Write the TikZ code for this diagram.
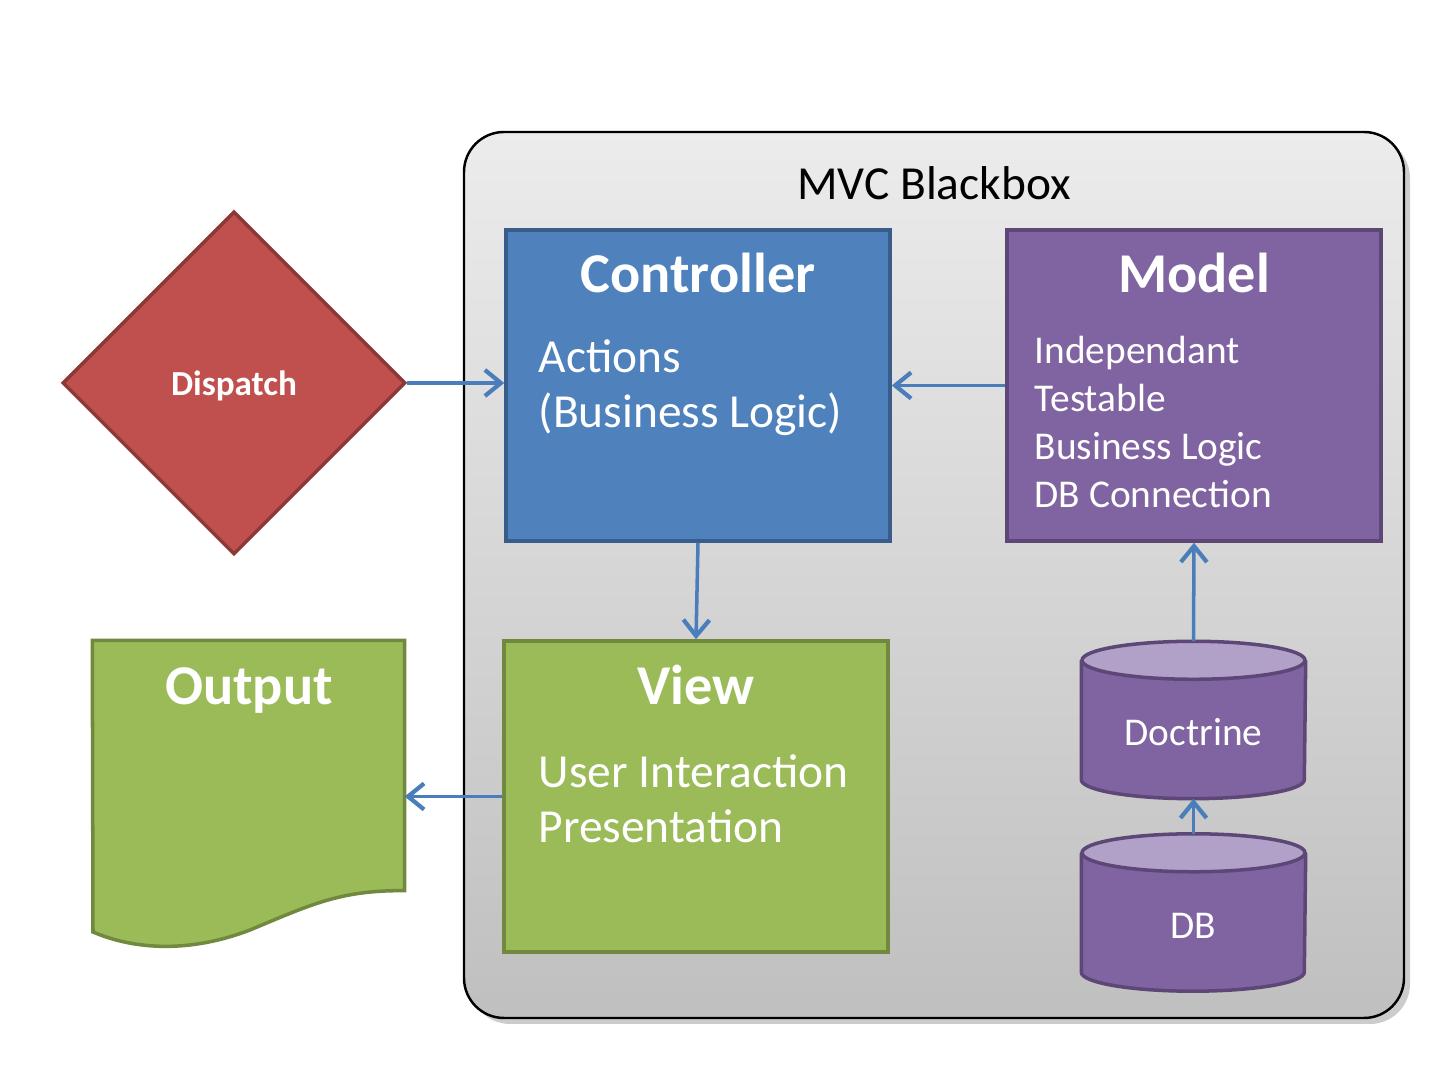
\documentclass[tikz,border=0pt]{standalone}
\usepackage{fontspec}
\setmainfont{Carlito}
\usepackage{xcolor}
\usetikzlibrary{positioning,shapes.geometric,shadows,arrows.meta}

\definecolor{ctrlblue}{HTML}{4F81BD}
\definecolor{ctrlborder}{HTML}{385D8A}
\definecolor{modelpurple}{HTML}{8064A2}
\definecolor{modelborder}{HTML}{5C4776}
\definecolor{modellight}{HTML}{B1A0C7}
\definecolor{viewgreen}{HTML}{9BBB59}
\definecolor{viewborder}{HTML}{71893F}
\definecolor{dispred}{HTML}{C0504D}
\definecolor{dispborder}{HTML}{8C3836}
\definecolor{arrowblue}{HTML}{4A7EBB}

\tikzset{
    mvcbox/.style={rectangle, line width=1pt, inner sep=0pt, minimum height=3.11cm},
    boxtitle/.style={anchor=base, text=white, font=\fontsize{16}{19}\selectfont\bfseries},
    boxtext/.style={anchor=base west, inner sep=0pt, text=white, align=left, font=\fontsize{13.5}{15.9}\selectfont},
    drum/.style={rectangle, inner sep=0pt, minimum width=2.23cm, minimum height=1.56cm,
        text height=0.52cm, text depth=0pt, text=white, font=\fontsize{11.2}{13}\selectfont},
    link/.style={arrowblue, line width=1pt, -{Straight Barb[length=1.6mm,width=2.6mm,line width=1.2pt]}}
}

% cylinder drawn round a named node
\newcommand{\drawdrum}[1]{%
    \draw[draw=modelborder, fill=modelpurple, line width=1pt] ([yshift=-0.19cm]#1.north west)
        -- ([yshift=0.19cm]#1.south west) arc[start angle=180, end angle=360, x radius=1.115cm, y radius=0.19cm]
        -- ([yshift=-0.19cm]#1.north east);
    \draw[draw=modelborder, fill=modellight, line width=1pt] ([yshift=-0.19cm]#1.north)
        ellipse[x radius=1.115cm, y radius=0.19cm];
}

\begin{document}
\begin{tikzpicture}
    \useasboundingbox (0,0) rectangle (14.4,10.8);
    % blackbox
    \node[draw=black, line width=0.7pt, rounded corners=0.4cm, top color=gray!15, bottom color=gray!50,
        drop shadow={shadow xshift=0.6mm, shadow yshift=-0.6mm, opacity=0.4},
        minimum width=9.4cm, minimum height=8.86cm, inner sep=0pt] (blackbox) at (9.34,5.05) {};
    \node[anchor=base, font=\fontsize{13.5}{16}\selectfont] (bbtitle) at (9.34,8.80) {MVC Blackbox};
    % controller
    \node[mvcbox, fill=ctrlblue, draw=ctrlborder, minimum width=3.84cm] (controller) at (6.98,6.945) {};
    \node[boxtitle] (ctrltitle) at (6.98,7.87) {Controller};
    \node[boxtext] (ctrltext) at (5.38,6.52) {Actions\\(Business Logic)};
    % model
    \node[mvcbox, fill=modelpurple, draw=modelborder, minimum width=3.74cm] (model) at (11.94,6.945) {};
    \node[boxtitle] (modeltitle) at (11.94,7.87) {Model};
    \node[boxtext, font=\fontsize{11.2}{13.7}\selectfont] (modeltext) at (10.34,5.72)
        {Independant\\Testable\\Business Logic\\DB Connection};
    % view
    \node[mvcbox, fill=viewgreen, draw=viewborder, minimum width=3.84cm] (view) at (6.96,2.835) {};
    \node[boxtitle] (viewtitle) at (6.96,3.75) {View};
    \node[boxtext] (viewtext) at (5.38,2.37) {User Interaction\\Presentation};
    % doctrine and db
    \node[drum] (doctrine) at (11.935,3.60) {};
    \drawdrum{doctrine}
    \node[drum] at (doctrine.center) {Doctrine};
    \node[drum] (db) at (11.935,1.675) {};
    \drawdrum{db}
    \node[drum] at (db.center) {DB};
    % dispatch
    \node[diamond, fill=dispred, draw=dispborder, line width=1pt, minimum width=3.43cm, minimum height=3.43cm,
        inner sep=0pt, text depth=0pt, text=white, font=\fontsize{10}{12}\selectfont\bfseries] (dispatch) at (2.34,6.97) {Dispatch};
    % output
    \node[minimum width=3.11cm, minimum height=2.49cm, inner sep=0pt] (output) at (2.485,3.145) {};
    \draw[fill=viewgreen, draw=viewborder, line width=1pt] (output.south east) -- (output.north east)
        -- (output.north west) -- (0.93,1.48) .. controls (1.35,1.30) and (1.9,1.27) .. (2.5,1.50)
        .. controls (3.1,1.75) and (3.4,1.90) .. (output.south east) -- cycle;
    \node[boxtitle] (outtitle) at (2.49,3.75) {Output};
    % arrows
    \draw[link] (dispatch.east) -- (dispatch.east -| controller.west);
    \draw[link] (model.west) -- (controller.east);
    \draw[link] (controller.south) -- (view.north);
    \draw[link] (doctrine.north) -- (model.south);
    \draw[link] (db.north) -- (doctrine.south);
    \draw[link] (view.west) -- (view.west -| output.east);
\end{tikzpicture}
\end{document}
